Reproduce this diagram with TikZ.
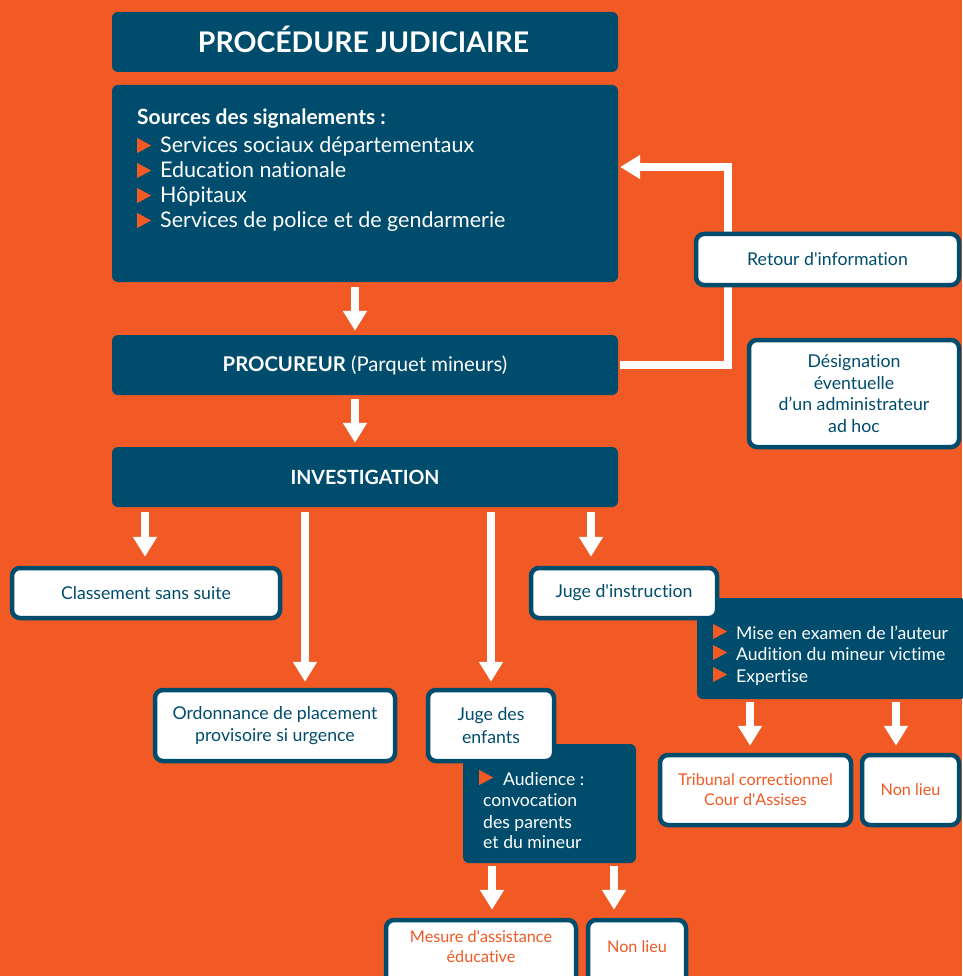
\documentclass[tikz,border=0pt]{standalone}
\usepackage{fontspec}
\setmainfont{Lato}[Ligatures={NoCommon}]
\usetikzlibrary{arrows.meta}
\definecolor{bg}{RGB}{241,90,36}
\definecolor{navy}{RGB}{0,76,108}
\newcommand\tri{\tikz[baseline=0pt]\fill[bg] (0pt,0pt) -- (0pt,15pt) -- (14pt,7.5pt) -- cycle;}
\newcommand\ap{\textquotesingle}
\tikzset{
  darkbox/.style={fill=navy, rounded corners=6pt, inner sep=0pt, text=white},
  whitebox/.style={fill=white, draw=navy, line width=4.5pt, rounded corners=8pt, text=navy,
    align=center, inner sep=0pt, font=\fontsize{17.7}{22.5}\selectfont},
  obox/.style={whitebox, text=bg, font=\fontsize{16.2}{20}\selectfont},
  otext/.style={text=bg, align=center, inner sep=0pt, font=\fontsize{16.2}{20}\selectfont},
  wtext/.style={text=white, inner sep=0pt, anchor=base west},
  btext/.style={wtext, font=\fontsize{17.6}{20}\selectfont},
  stext/.style={wtext, font=\fontsize{21.5}{24}\selectfont},
  warr/.style={color=white, line width=7.5pt, -{Triangle[width=23pt,length=20pt]}},
}
\begin{document}
\begin{tikzpicture}[x=1pt,y=-1pt]
\fill[bg] (0,0) rectangle (962,976);
\useasboundingbox (0,0) rectangle (962,976);
% dark boxes
\node[darkbox, minimum width=506, minimum height=60] (title) at (365,42) {};
\node[wtext, anchor=base, font=\fontsize{28.4}{30}\selectfont\bfseries] (titlet) at (363.5,53) {PROCÉDURE JUDICIAIRE};
\node[darkbox, minimum width=506, minimum height=197] (src) at (365,183.5) {};
\node[wtext, font=\fontsize{21}{22}\selectfont\bfseries] (srch) at (137,125) {Sources des signalements :};
\node[stext] (s1) at (137,153) {\tri\hspace{9pt}Services sociaux départementaux};
\node[stext] (s2) at (137,178) {\tri\hspace{9pt}Education nationale};
\node[stext] (s3) at (137,203) {\tri\hspace{9pt}Hôpitaux};
\node[stext] (s4) at (137,228) {\tri\hspace{9pt}Services de police et de gendarmerie};
\node[darkbox, minimum width=506, minimum height=60, font=\fontsize{20.3}{22}\selectfont] (proc) at (365,365) {\textbf{PROCUREUR} (Parquet mineurs)};
\node[darkbox, minimum width=506, minimum height=60, font=\fontsize{19.6}{22}\selectfont\bfseries] (inv) at (365,477) {INVESTIGATION};
% bullet boxes
\node[darkbox, minimum width=269, minimum height=101] (jdib) at (831.5,648.5) {};
\node[btext] (j1) at (713,639) {\tri\hspace{9pt}Mise en examen de l’auteur};
\node[btext] (j2) at (713,660) {\tri\hspace{9pt}Audition du mineur victime};
\node[btext] (j3) at (713,682) {\tri\hspace{9pt}Expertise};
\node[darkbox, minimum width=173, minimum height=119] (jdeb) at (549.5,803.5) {};
\node[btext] (e1) at (479,785) {\tri\hspace{10pt}Audience :};
\node[btext] (e2) at (483,806) {convocation};
\node[btext] (e3) at (483,828) {des parents};
\node[btext] (e4) at (483,848) {et du mineur};
% feedback connector
\coordinate (fbtop) at (728,167);
\draw[warr, shorten >=2pt] ([xshift=2pt]proc.east) -| (fbtop) -- (fbtop -| src.east);
% white boxes
\node[whitebox, minimum width=263, minimum height=51] (ret) at (827.5,259.5) {Retour d\ap information};
\node[whitebox, minimum width=210, minimum height=107, font=\fontsize{17.7}{21.7}\selectfont] (des) at (854,393.5) {Désignation\\éventuelle\\d’un administrateur\\ad hoc};
\node[whitebox, minimum width=268, minimum height=50] (clas) at (146,593) {Classement sans suite};
\node[whitebox, minimum width=186, minimum height=50] (jdi) at (624,593) {Juge d\ap instruction};
\node[whitebox, minimum width=240, minimum height=71] (ord) at (275,725.5) {Ordonnance de placement\\provisoire si urgence};
\node[whitebox, minimum width=126, minimum height=71] (jde) at (491,725.5) {Juge des\\enfants};
\node[obox, minimum width=191, minimum height=70] (trib) at (755.5,790) {Tribunal correctionnel\\Cour d\ap Assises};
\node[obox, minimum width=97, minimum height=70] (nl1) at (910.5,790) {Non lieu};
\node[obox, minimum width=190, minimum height=68] (mes) at (481,954) {};
\node[otext] (mest) at (481,947) {Mesure d\ap assistance\\éducative};
\node[obox, minimum width=98, minimum height=68] (nl2) at (637,954) {};
\node[otext] (nl2t) at (637,947) {Non lieu};
% arrows
\draw[warr, shorten <=5pt, shorten >=4pt] ([xshift=-10pt]src.south) -- ([xshift=-10pt]proc.north);
\draw[warr, shorten <=4pt, shorten >=4pt] ([xshift=-10pt]proc.south) -- ([xshift=-10pt]inv.north);
\coordinate (i1) at (145,512);
\coordinate (i2) at (305,512);
\coordinate (i3) at (491,512);
\coordinate (i4) at (591,512);
\draw[warr, shorten >=9pt] (i1) -- (i1 |- clas.north);
\draw[warr, shorten >=6pt] (i2) -- (i2 |- ord.north);
\draw[warr, shorten >=6pt] (i3) -- (i3 |- jde.north);
\draw[warr, shorten >=9pt] (i4) -- (i4 |- jdi.north);
\coordinate (k1) at (750,702);
\coordinate (k2) at (896,702);
\draw[warr, shorten >=7pt] (k1) -- (k1 |- trib.north);
\draw[warr, shorten >=7pt] (k2) -- (k2 |- nl1.north);
\coordinate (m1) at (492,866);
\coordinate (m2) at (614,866);
\draw[warr, shorten >=8pt] (m1) -- (m1 |- mes.north);
\draw[warr, shorten >=8pt] (m2) -- (m2 |- nl2.north);
\end{tikzpicture}
\end{document}
